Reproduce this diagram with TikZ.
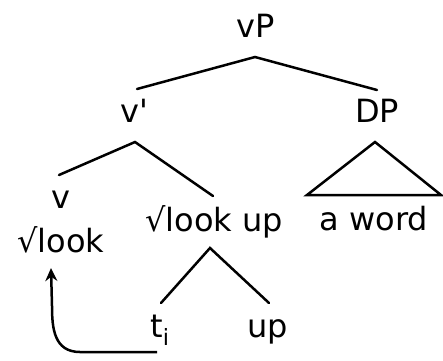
\documentclass[tikz,border=0pt]{standalone}
\usepackage{fontspec}
\newfontfamily\lblfont{DejaVu Sans}
\usetikzlibrary{arrows.meta,calc}
\begin{document}
\begin{tikzpicture}[x=1pt,y=-1pt,
  lbl/.style={anchor=base,inner sep=0pt,font=\lblfont\fontsize{32}{34}\selectfont},
  branch/.style={line width=2.5pt,line cap=round},
  move/.style={line width=2.5pt,-{Stealth[length=13pt,width=12pt]}}]
\useasboundingbox (0,0) rectangle (443,360);
% category and word labels
\node[lbl] (vP)     at (256,37)  {vP};
\node[lbl] (vbar)   at (134,122) {v'};
\node[lbl] (DP)     at (377,122) {DP};
\node[lbl] (v)      at (61,208)  {v};
\node[lbl] (look)   at (61,252)  {√look};
\node[lbl] (lookup) at (214,231) {√look up};
\node[lbl] (aword)  at (374,230) {a word};
\node[lbl] (ti)     at (160,337) {t\textsubscript{i}};
\node[lbl] (up)     at (268,337) {up};
% branch points
\coordinate (vP-j)     at (255,57);
\coordinate (vbar-t)   at (137,89);
\coordinate (DP-t)     at (377,90);
\coordinate (vbar-j)   at (135,142);
\coordinate (v-t)      at (59,175);
\coordinate (lookup-t) at (213,196);
\coordinate (DP-j)     at (375,142);
\coordinate (tri-l)    at (307,195);
\coordinate (tri-r)    at (441,195);
\coordinate (lookup-j) at (210,248);
\coordinate (ti-t)     at (161,303);
\coordinate (up-t)     at (269,303);
% tree branches
\draw[branch] (vbar-t) -- (vP-j) -- (DP-t);
\draw[branch] (v-t) -- (vbar-j) -- (lookup-t);
\draw[branch] (tri-l) -- (DP-j) -- (tri-r) -- cycle;
\draw[branch] (ti-t) -- (lookup-j) -- (up-t);
% head movement of the root
\coordinate (mv-s) at ($(ti.base)+(-3,15)$);
\coordinate (mv-e) at ($(look.base)+(-10,16)$);
\draw[move] (mv-s) -- ++(-77,0) .. controls ++(-26,0) and ($(mv-e)+(1,60)$) .. ($(mv-e)+(1,38)$) -- (mv-e);
\end{tikzpicture}
\end{document}
